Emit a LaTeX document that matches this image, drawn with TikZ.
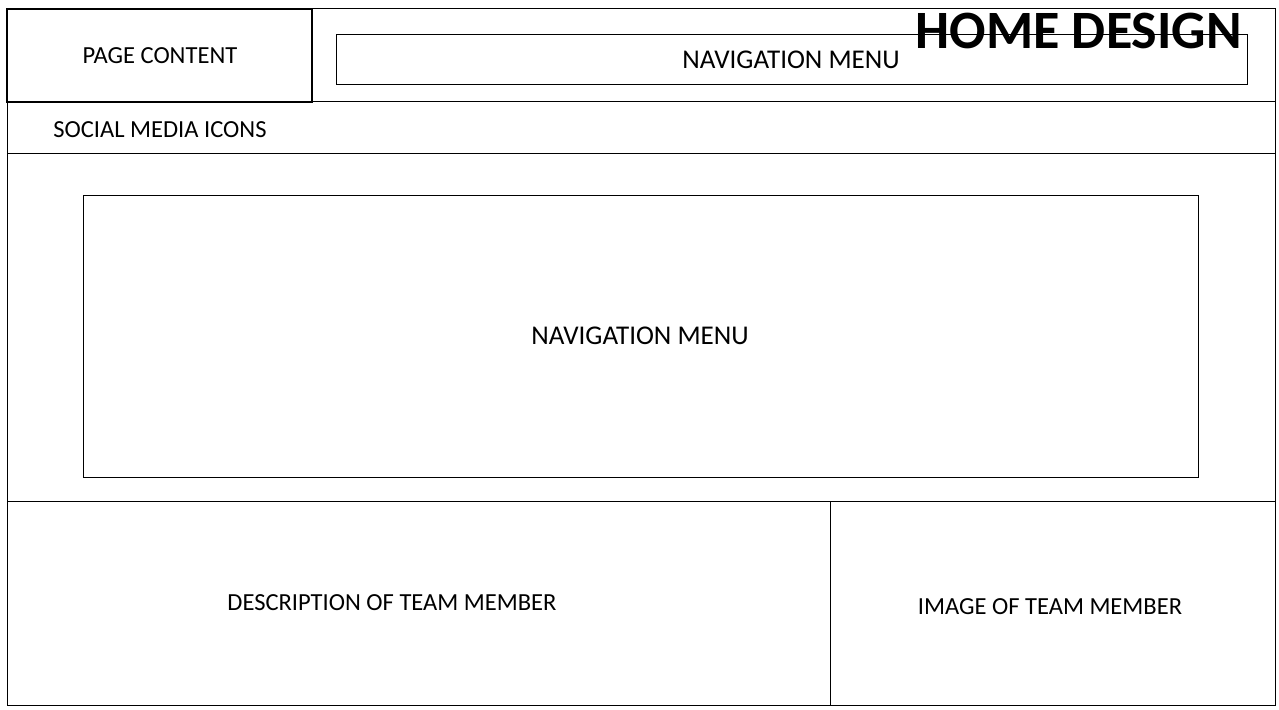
\documentclass[tikz,border=0pt]{standalone}
\usepackage{fontspec}
\setmainfont{Carlito}
\begin{document}
\begin{tikzpicture}[x=0.75pt,y=-0.75pt,
  frame/.style={draw=black,line width=0.75pt},
  thick frame/.style={draw=black,line width=1.5pt},
  label/.style={font=\fontsize{18.4}{22}\selectfont,inner sep=0pt},
  navlabel/.style={font=\fontsize{20.3}{24}\selectfont,inner sep=0pt},
  title/.style={font=\fontsize{40.5}{48}\selectfont\bfseries,inner sep=0pt}]
\useasboundingbox[fill=white] (0,0) rectangle (1279,710);
% outer frame and divisions
\node[frame,minimum width=1268*0.75pt,minimum height=696*0.75pt,inner sep=0pt] (page) at (641,357) {};
\draw[frame] (7,102) -- (1275,102);
\draw[frame] (7,153) -- (1275,153);
\draw[frame] (7,501) -- (1275,501);
\draw[frame] (830,501) -- (830,705);
% boxes
\node[thick frame,minimum width=305*0.75pt,minimum height=93*0.75pt,inner sep=0pt] (pc) at (159.5,55.5) {};
\node[label] at (160,56) {PAGE CONTENT};
\node[frame,minimum width=911*0.75pt,minimum height=50*0.75pt,inner sep=0pt] (nav1) at (791.5,60) {};
\node[navlabel] at (791,60) {NAVIGATION MENU};
\node[label] (social) at (160,130) {SOCIAL MEDIA ICONS};
\node[frame,minimum width=1115*0.75pt,minimum height=282*0.75pt,inner sep=0pt] (nav2) at (640.5,336) {};
\node[navlabel] at (640,336) {NAVIGATION MENU};
\node[label] (desc) at (392,603) {DESCRIPTION OF TEAM MEMBER};
\node[label] (img) at (1050,607) {IMAGE OF TEAM MEMBER};
\node[title,anchor=base east] (home) at (1242,49) {HOME DESIGN};
\end{tikzpicture}
\end{document}
